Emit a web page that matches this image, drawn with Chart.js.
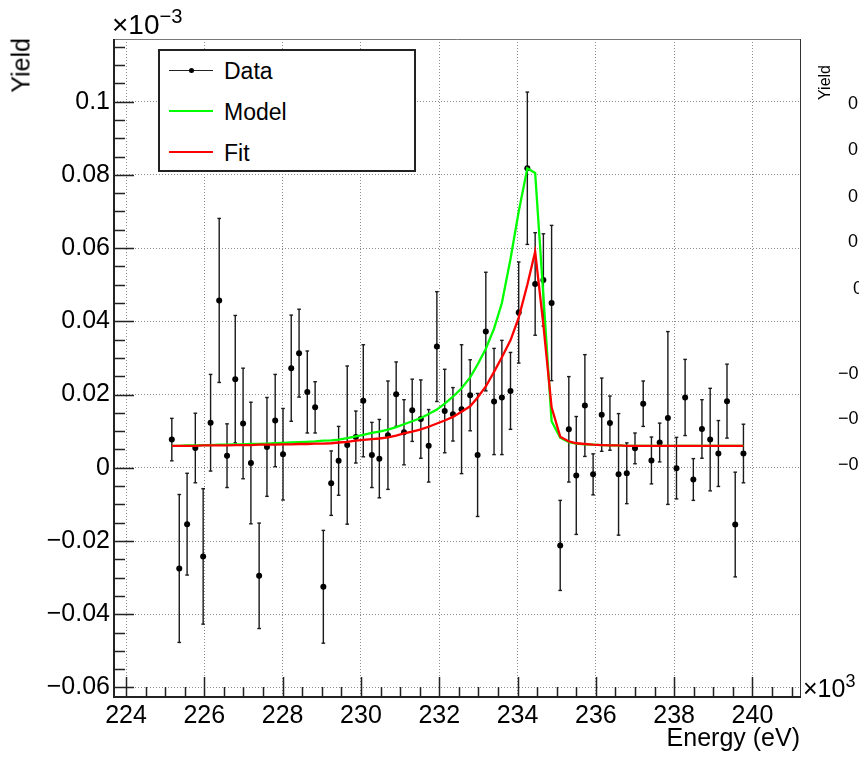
<!DOCTYPE html>
<html>
<head>
  <meta charset="UTF-8">
  <title>Yield vs Energy</title>
  <style>
    html, body { margin: 0; padding: 0; background: #fff; }
    body {
      width: 859px; height: 764px; position: relative; overflow: hidden;
      font-family: "Liberation Sans", Arial, Helvetica, sans-serif; color: #000;
    }
    #plot { position: absolute; left: 0; top: 0; }
    .lbl { position: absolute; white-space: nowrap; line-height: 1; }
    .rot { transform-origin: 0 0; transform: rotate(-90deg) translate(-100%, -50%); }
    .sup { font-size: 0.72em; position: relative; top: -0.55em; }
    #legend {
      position: absolute; left: 158px; top: 49px; width: 254px; height: 119px;
      border: 2px solid #222; background: #fff;
    }
    #legend .sw { position: absolute; left: 9px; width: 44px; height: 0; }
    #legend .dot { position: absolute; width: 5px; height: 5px; border-radius: 50%; background: #000; }
    #legend .lbl { font-size: 23px; left: 64px; }
  </style>
  <script src="https://cdn.jsdelivr.net/npm/chart.js"></script>
</head>
<body>
  <canvas id="plot" width="859" height="764"></canvas>

  <!-- axis titles and exponents -->
  <div class="lbl rot" style="left:21px; top:38px; font-size:25px;">Yield</div>
  <div class="lbl" style="left:112px; top:11px; font-size:28px;">×10<span class="sup">−3</span></div>
  <div class="lbl" style="left:803px; top:676px; font-size:25px;">×10<span class="sup">3</span></div>
  <div class="lbl" style="right:59px; top:725px; font-size:25px;">Energy (eV)</div>

  <!-- legend -->
  <div id="legend">
    <div class="sw" style="top:19px; border-top:1px solid #222;"></div>
    <div class="dot" style="left:29px; top:17px;"></div>
    <div class="lbl" style="top:9px;">Data</div>
    <div class="sw" style="top:59px; border-top:2px solid #00ff00;"></div>
    <div class="lbl" style="top:50px;">Model</div>
    <div class="sw" style="top:100px; border-top:2px solid #ff0000;"></div>
    <div class="lbl" style="top:91px;">Fit</div>
  </div>

  <!-- edge of the neighbouring pad -->
  <div class="lbl rot" style="left:825px; top:65px; font-size:16px;">Yield</div>
  <div class="lbl" style="left:848px; top:94px; font-size:18px;">0</div>
  <div class="lbl" style="left:848px; top:140px; font-size:18px;">0</div>
  <div class="lbl" style="left:848px; top:187px; font-size:18px;">0</div>
  <div class="lbl" style="left:848px; top:232px; font-size:18px;">0</div>
  <div class="lbl" style="left:853px; top:279px; font-size:18px;">0</div>
  <div class="lbl" style="left:838px; top:364px; font-size:18px;">−0</div>
  <div class="lbl" style="left:838px; top:409px; font-size:18px;">−0</div>
  <div class="lbl" style="left:838px; top:455px; font-size:18px;">−0</div>

  <script>
  // energy in units of 10^3 eV, yield in units of 10^-3
  const energy = [
    225.17, 225.36, 225.56, 225.77, 225.97, 226.16, 226.38, 226.58, 226.79, 226.99,
    227.19, 227.40, 227.60, 227.81, 228.01, 228.22, 228.42, 228.63, 228.83, 229.04,
    229.24, 229.43, 229.65, 229.87, 230.06, 230.28, 230.47, 230.69, 230.90, 231.10,
    231.31, 231.53, 231.73, 231.94, 232.14, 232.35, 232.57, 232.79, 232.98, 233.19,
    233.40, 233.60, 233.82, 234.03, 234.25, 234.45, 234.66, 234.87, 235.09, 235.31,
    235.50, 235.72, 235.93, 236.15, 236.36, 236.58, 236.79, 237.00, 237.21, 237.42,
    237.63, 237.84, 238.06, 238.28, 238.49, 238.71, 238.92, 239.13, 239.35, 239.56,
    239.77
  ];
  const yieldData = [
    0.0077, -0.0275, -0.0154, 0.0054, -0.0242, 0.0123, 0.0457, 0.0033, 0.0242, 0.0121,
    0.0013, -0.0295, 0.0057, 0.0129, 0.0037, 0.0272, 0.0313, 0.0207, 0.0165, -0.0325,
    -0.0042, 0.0019, 0.0062, 0.0084, 0.0183, 0.0035, 0.0025, 0.0089, 0.0201, 0.0097,
    0.0157, 0.0133, 0.0060, 0.0331, 0.0155, 0.0146, 0.0160, 0.0198, 0.0035, 0.0372,
    0.0181, 0.0192, 0.0210, 0.0424, 0.0818, 0.0502, 0.0513, 0.0450, -0.0212, 0.0105,
    -0.0021, 0.0170, -0.0018, 0.0145, 0.0122, -0.0018, -0.0015, 0.0053, 0.0175, 0.0020,
    0.0069, 0.0136, -0.0001, 0.0192, -0.0032, 0.0106, 0.0077, 0.0039, 0.0182, -0.0155,
    0.0039
  ];
  const yieldErr = [
    0.0058, 0.0202, 0.0139, 0.0095, 0.0185, 0.0132, 0.0224, 0.0087, 0.0174, 0.0151,
    0.0166, 0.0144, 0.0135, 0.0126, 0.0125, 0.0145, 0.0120, 0.0112, 0.0070, 0.0154,
    0.0088, 0.0094, 0.0216, 0.0071, 0.0153, 0.0089, 0.0107, 0.0148, 0.0088, 0.0089,
    0.0085, 0.0107, 0.0099, 0.0150, 0.0114, 0.0073, 0.0176, 0.0097, 0.0168, 0.0162,
    0.0145, 0.0156, 0.0105, 0.0138, 0.0208, 0.0140, 0.0126, 0.0212, 0.0123, 0.0144,
    0.0161, 0.0139, 0.0056, 0.0100, 0.0074, 0.0166, 0.0083, 0.0042, 0.0062, 0.0064,
    0.0053, 0.0236, 0.0084, 0.0104, 0.0057, 0.0080, 0.0140, 0.0090, 0.0101, 0.0143,
    0.0080
  ];
  const modelData = [
    0.0060, 0.0060, 0.0061, 0.0061, 0.0062, 0.0062, 0.0063, 0.0063, 0.0064, 0.0064,
    0.0065, 0.0065, 0.0066, 0.0067, 0.0068, 0.0069, 0.0070, 0.0071, 0.0072, 0.0074,
    0.0075, 0.0077, 0.0081, 0.0086, 0.0090, 0.0095, 0.0099, 0.0104, 0.0111, 0.0119,
    0.0127, 0.0136, 0.0147, 0.0159, 0.0175, 0.0194, 0.0217, 0.0247, 0.0282, 0.0325,
    0.0380, 0.0450, 0.0570, 0.0700, 0.0818, 0.0805, 0.0470, 0.0127, 0.0082, 0.0070,
    0.0066, 0.0064, 0.0063, 0.0062, 0.0061, 0.0061, 0.0060, 0.0060, 0.0060, 0.0060,
    0.0060, 0.0060, 0.0060, 0.0060, 0.0060, 0.0060, 0.0060, 0.0060, 0.0060, 0.0060,
    0.0060
  ];
  const fitData = [
    0.0060, 0.0060, 0.0060, 0.0060, 0.0061, 0.0061, 0.0061, 0.0061, 0.0062, 0.0062,
    0.0062, 0.0063, 0.0063, 0.0063, 0.0064, 0.0064, 0.0065, 0.0065, 0.0066, 0.0066,
    0.0067, 0.0069, 0.0071, 0.0074, 0.0076, 0.0078, 0.0080, 0.0083, 0.0088, 0.0094,
    0.0099, 0.0105, 0.0112, 0.0121, 0.0129, 0.0139, 0.0153, 0.0168, 0.0192, 0.0222,
    0.0262, 0.0302, 0.0348, 0.0410, 0.0500, 0.0590, 0.0390, 0.0165, 0.0085, 0.0072,
    0.0067, 0.0065, 0.0063, 0.0062, 0.0061, 0.0061, 0.0060, 0.0060, 0.0060, 0.0060,
    0.0060, 0.0060, 0.0060, 0.0060, 0.0060, 0.0060, 0.0060, 0.0060, 0.0060, 0.0060,
    0.0060
  ];

  const xTickValues = [224, 226, 228, 230, 232, 234, 236, 238, 240];
  const xTickLabels = ["224", "226", "228", "230", "232", "234", "236", "238", "240"];
  const yTickValues = [-0.06, -0.04, -0.02, 0, 0.02, 0.04, 0.06, 0.08, 0.1];
  const yTickLabels = ["−0.06", "−0.04", "−0.02", "0", "0.02", "0.04", "0.06", "0.08", "0.1"];

  const xMin = 223.693, xMax = 241.24;
  const yMin = -0.0626, yMax = 0.1171;

  const FONT = "'Liberation Sans', Arial, Helvetica, sans-serif";

  // error bars as broken line segments, caps drawn by the 'line' point style
  const errSegments = [];
  energy.forEach((e, i) => {
    errSegments.push({ x: e, y: yieldData[i] - yieldErr[i] });
    errSegments.push({ x: e, y: yieldData[i] + yieldErr[i] });
    errSegments.push({ x: e, y: null });
  });
  const points = energy.map((e, i) => ({ x: e, y: yieldData[i] }));
  const modelPts = energy.map((e, i) => ({ x: e, y: modelData[i] }));
  const fitPts = energy.map((e, i) => ({ x: e, y: fitData[i] }));

  // ROOT style inward ticks and frame
  const rootFrame = {
    id: "rootFrame",
    afterDatasetsDraw(chart) {
      const { ctx, chartArea: a, scales: { x, y } } = chart;
      ctx.save();
      ctx.lineWidth = 1;
      ctx.strokeStyle = "#777";
      ctx.beginPath();
      ctx.moveTo(a.left, a.top + 0.5); ctx.lineTo(a.right, a.top + 0.5);
      ctx.stroke();
      ctx.strokeStyle = "#333";
      ctx.beginPath();
      ctx.moveTo(a.right - 0.5, a.top); ctx.lineTo(a.right - 0.5, a.bottom);
      ctx.stroke();

      ctx.strokeStyle = "#222";
      ctx.lineWidth = 1.5;
      ctx.beginPath();
      for (let k = -12; k <= 23; k++) {           // every 0.005
        const v = k * 0.005;
        if (v < yMin || v > yMax) continue;
        const py = Math.round(y.getPixelForValue(v)) + 0.5;
        const len = (k % 4 === 0) ? 20 : 11;
        ctx.moveTo(a.left, py); ctx.lineTo(a.left + len, py);
      }
      for (let k = 0; k <= 34; k++) {             // every 0.5
        const v = 224 + k * 0.5;
        if (v < xMin || v > xMax) continue;
        const px = Math.round(x.getPixelForValue(v)) + 0.5;
        const len = (k % 4 === 0) ? 20 : 10;
        ctx.moveTo(px, a.bottom); ctx.lineTo(px, a.bottom - len);
      }
      ctx.stroke();

      ctx.lineWidth = 2;
      ctx.beginPath();
      ctx.moveTo(a.left, a.top); ctx.lineTo(a.left, a.bottom);
      ctx.lineTo(a.right, a.bottom);
      ctx.stroke();
      ctx.restore();
    }
  };

  new Chart(document.getElementById("plot").getContext("2d"), {
    type: "scatter",
    data: {
      datasets: [
        {
          label: "errors", data: errSegments, showLine: true, spanGaps: false,
          borderColor: "#1a1a1a", borderWidth: 1.4,
          pointStyle: "line", pointRadius: 1.8, pointBorderColor: "#1a1a1a",
          pointBorderWidth: 1.4, order: 4
        },
        {
          label: "Data", data: points, showLine: false,
          pointStyle: "circle", pointRadius: 3, pointBackgroundColor: "#000",
          pointBorderColor: "#000", pointBorderWidth: 0, order: 3
        },
        {
          label: "Model", data: modelPts, showLine: true, borderColor: "#00ff00",
          borderWidth: 2.3, pointRadius: 0, tension: 0, order: 2
        },
        {
          label: "Fit", data: fitPts, showLine: true, borderColor: "#ff0000",
          borderWidth: 2.3, pointRadius: 0, tension: 0, order: 1
        }
      ]
    },
    options: {
      responsive: false,
      animation: false,
      devicePixelRatio: 1,
      layout: { padding: { left: 0, top: 39, right: 58, bottom: 0 } },
      plugins: { legend: { display: false }, tooltip: { enabled: false } },
      scales: {
        x: {
          type: "linear", min: xMin, max: xMax,
          afterBuildTicks: s => { s.ticks = xTickValues.map(v => ({ value: v })); },
          afterFit: s => { s.height = 67; },
          ticks: {
            font: { family: FONT, size: 25 }, color: "#000", padding: 4,
            maxRotation: 0, autoSkip: false,
            callback: (v, i) => xTickLabels[i]
          },
          grid: { color: "#8c8c8c", lineWidth: 1, drawTicks: false },
          border: { display: false, dash: [1, 2] }
        },
        y: {
          type: "linear", min: yMin, max: yMax,
          afterBuildTicks: s => { s.ticks = yTickValues.map(v => ({ value: v })); },
          afterFit: s => { s.width = 114; },
          ticks: {
            font: { family: FONT, size: 25 }, color: "#000", padding: 4,
            autoSkip: false,
            callback: (v, i) => yTickLabels[i]
          },
          grid: { color: "#8c8c8c", lineWidth: 1, drawTicks: false },
          border: { display: false, dash: [1, 2] }
        }
      }
    },
    plugins: [rootFrame]
  });
  </script>
</body>
</html>
